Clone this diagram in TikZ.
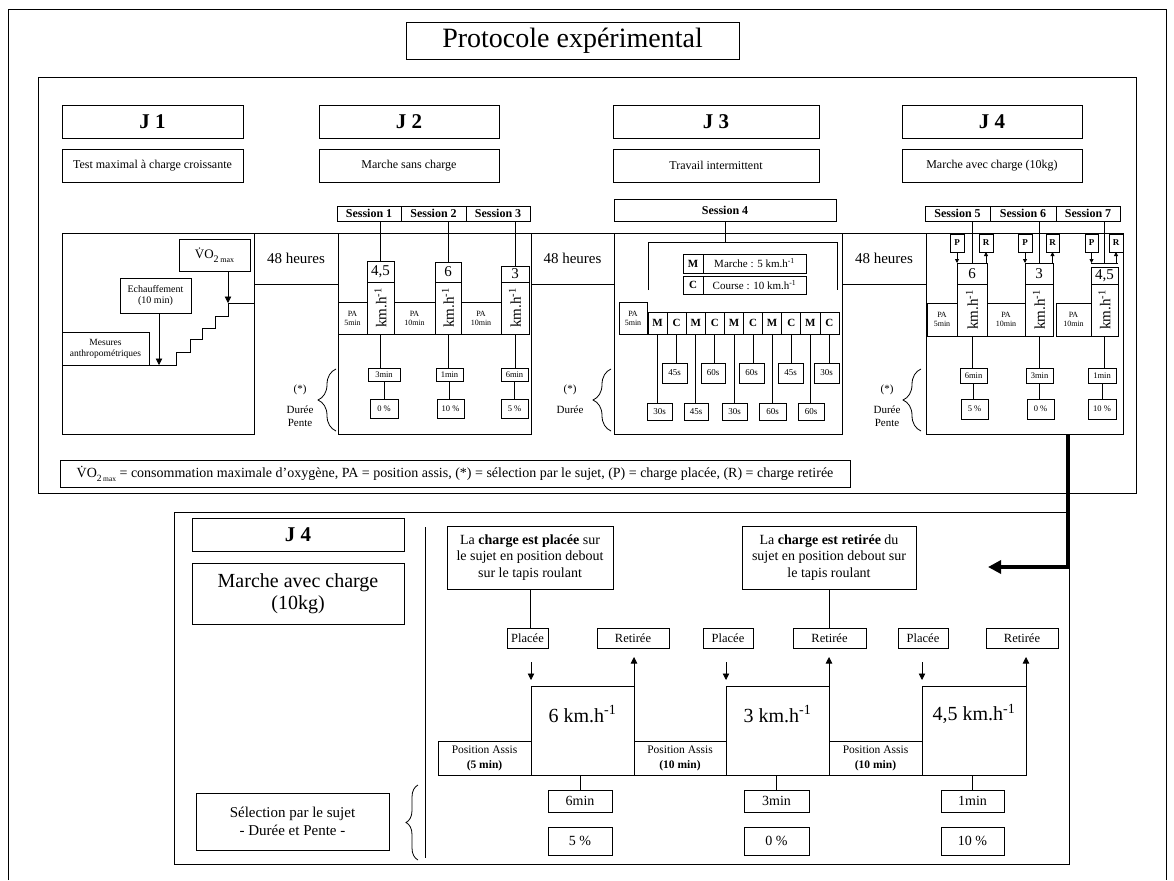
\documentclass[tikz,border=0pt]{standalone}
\usepackage{fontspec}
\setmainfont{Liberation Serif}
\usetikzlibrary{arrows.meta,decorations.pathreplacing}
\tikzset{
  bx/.style={draw, line width=0.8pt, inner sep=0pt, outer sep=0pt, align=center},
  fs/.style 2 args={font=\fontsize{#1}{#2}\selectfont},
  fsb/.style 2 args={font=\fontsize{#1}{#2}\selectfont\bfseries},
  ln/.style={line width=0.8pt},
  sarr/.style={line width=0.8pt, -{Triangle[length=4pt,width=4pt]}},
  marr/.style={line width=0.8pt, -{Triangle[length=6.5pt,width=6.5pt]}},
  brc/.style={line width=0.8pt, decorate, decoration={brace, amplitude=#1}},
}
\newcommand\bx[7][]{\node[bx,minimum width={(#5-#3)*1pt},minimum height={(#6-#4)*1pt},#1] (#2) at ({(#3+#5)/2},{(#4+#6)/2}) {#7};}
\newcommand\kmh{km.h\textsuperscript{-1}}
\newcommand\vo[2]{\.VO\raisebox{-0.25em}{\fontsize{#1}{#1}\selectfont 2\,{\fontsize{#2}{#2}\selectfont max}}}
\begin{document}
\begin{tikzpicture}[x=1pt,y=-1pt]
\useasboundingbox (0,0) rectangle (1174,880);
\draw[ln] (8,880) -- (8,9) -- (1166,9) -- (1166,880);
\bx[fs={28}{32}]{title}{406}{22}{739}{59}{Protocole expérimental}
\draw[ln] (38,77) rectangle (1136,493);
% headers
\bx[fsb={21}{24}]{J1}{62}{105}{243}{138}{J 1}
\bx[fs={12}{14}]{J1s}{62}{149}{243}{182}{Test maximal à charge croissante}
\bx[fsb={21}{24}]{J2}{319}{105}{499}{138}{J 2}
\bx[fs={12}{14}]{J2s}{319}{149}{499}{182}{Marche sans charge}
\bx[fsb={21}{24}]{J3}{613}{105}{819}{138}{J 3}
\bx[fs={12}{14}]{J3s}{613}{149}{819}{182}{Travail intermittent}
\bx[fsb={21}{24}]{J4}{902}{105}{1082}{138}{J 4}
\bx[fs={12}{14}]{J4s}{902}{149}{1082}{182}{Marche avec charge (10kg)}
% panels
\bx{P1}{62}{233}{254}{434}{}
\bx[fs={15}{17}]{H1}{254}{233}{338}{284}{48 heures}
\bx{P2}{338}{233}{531}{434}{}
\bx[fs={15}{17}]{H2}{531}{233}{614}{284}{48 heures}
\bx{P3}{614}{233}{842}{434}{}
\bx[fs={15}{17}]{H3}{842}{233}{926}{284}{48 heures}
\bx{P4}{926}{233}{1123}{434}{}
% J1
\bx[fs={13}{15}]{vo}{179}{239}{250}{271}{\vo{10}{8}}
\bx[fs={10}{11.5}]{ec}{120}{278}{191}{313}{Echauffement\\(10 min)}
\bx[fs={9.5}{11}]{me}{62}{332}{149}{365}{Mesures\\anthropométriques}
\coordinate (stT) at (228,303);
\coordinate (stB) at (159,365);
\draw[ln] (me.south east) -- (176,365) -- (176,352) -- (190,352) -- (190,339) -- (202,339) -- (202,328) -- (215,328) -- (215,316) -- (228,316) -- (stT) -- (P1.east |- stT);
\draw[marr] (vo.south -| stT) -- (stT);
\draw[marr] (ec.south -| stB) -- (stB);
% J2
\bx[fsb={12}{14}]{s1}{337}{206}{401}{221}{Session 1}
\bx[fsb={12}{14}]{s2}{401}{206}{466}{221}{Session 2}
\bx[fsb={12}{14}]{s3}{466}{206}{530}{221}{Session 3}
\bx[fs={15}{17}]{v1}{367}{261}{394}{282}{4,5}
\bx{k1}{367}{282}{394}{334}{}
\node[rotate=90,fs={15}{17}] (k1t) at (k1) {\kmh};
\bx[fs={15}{17}]{v2}{435}{262}{461}{282}{6}
\bx{k2}{435}{282}{461}{334}{}
\node[rotate=90,fs={15}{17}] (k2t) at (k2) {\kmh};
\bx[fs={15}{17}]{v3}{501}{266}{529}{282}{3}
\bx{k3}{501}{282}{529}{334}{}
\node[rotate=90,fs={15}{17}] (k3t) at (k3) {\kmh};
\bx[fs={8}{9}]{a1}{338}{302}{367}{334}{PA\\5min}
\bx[fs={8}{9}]{a2}{394}{302}{435}{334}{PA\\10min}
\bx[fs={8}{9}]{a3}{461}{302}{501}{334}{PA\\10min}
\bx[fs={8.5}{10}]{d1}{368}{368}{400}{381}{3min}
\bx[fs={8.5}{10}]{g1}{370}{399}{398}{418}{0 \%}
\bx[fs={8.5}{10}]{d2}{436}{368}{463}{381}{1min}
\bx[fs={8.5}{10}]{g2}{437}{399}{464}{418}{10 \%}
\bx[fs={8.5}{10}]{d3}{501}{368}{528}{381}{6min}
\bx[fs={8.5}{10}]{g3}{501}{399}{528}{418}{5 \%}
\foreach \s/\v/\k/\d/\g in {s1/v1/k1/d1/g1,s2/v2/k2/d2/g2,s3/v3/k3/d3/g3}{
  \draw[ln] (\s.south -| \v.north) -- (\v.north);
  \draw[ln] (\k.south) -- (\k.south |- \d.north);
  \draw[ln] (\d.south) -- (\d.south |- \g.north);
}
\draw[brc=18pt] (336,431) -- (336,369);
\node[fs={11}{13}] (ast2) at (300,390) {(*)};
\node[fs={11}{13},align=center] (dp2) at (300,416) {Durée\\Pente};
% J3
\bx[fsb={12}{14}]{s4}{614}{199}{836}{221}{Session 4}
\coordinate (b4) at (724,242);
\coordinate (bl) at (648,290);
\coordinate (br) at (837,290);
\draw[ln] (s4.south) -- (s4.south |- b4);
\draw[ln] (bl) -- (bl |- b4) -- (br |- b4) -- (br);
\bx[fsb={11}{13}]{mk}{683}{254}{703}{273}{M}
\bx[fs={11}{13}]{mt}{703}{254}{806}{273}{Marche : 5 \kmh}
\bx[fsb={11}{13}]{ck}{683}{276}{703}{294}{C}
\bx[fs={11}{13}]{ct}{703}{276}{806}{294}{Course : 10 \kmh}
\bx[fs={8}{9}]{a4}{619}{302}{647}{334}{PA\\5min}
\bx[fsb={11}{13}]{mc1}{648}{312}{667.1}{334}{M}
\bx[fsb={11}{13}]{mc2}{667.1}{312}{686.2}{334}{C}
\bx[fsb={11}{13}]{mc3}{686.2}{312}{705.3}{334}{M}
\bx[fsb={11}{13}]{mc4}{705.3}{312}{724.4}{334}{C}
\bx[fsb={11}{13}]{mc5}{724.4}{312}{743.5}{334}{M}
\bx[fsb={11}{13}]{mc6}{743.5}{312}{762.6}{334}{C}
\bx[fsb={11}{13}]{mc7}{762.6}{312}{781.7}{334}{M}
\bx[fsb={11}{13}]{mc8}{781.7}{312}{800.8}{334}{C}
\bx[fsb={11}{13}]{mc9}{800.8}{312}{819.9}{334}{M}
\bx[fsb={11}{13}]{mc10}{819.9}{312}{839}{334}{C}
\bx[fs={9}{10}]{u1}{662}{363}{687}{383}{45s}
\bx[fs={9}{10}]{u2}{701}{363}{725}{383}{60s}
\bx[fs={9}{10}]{u3}{739}{363}{764}{383}{60s}
\bx[fs={9}{10}]{u4}{778}{363}{803}{383}{45s}
\bx[fs={9}{10}]{u5}{814}{363}{839}{383}{30s}
\bx[fs={9}{10}]{l1}{647}{403}{672}{420}{30s}
\bx[fs={9}{10}]{l2}{684}{403}{708}{420}{45s}
\bx[fs={9}{10}]{l3}{722}{403}{747}{420}{30s}
\bx[fs={9}{10}]{l4}{759}{403}{786}{420}{60s}
\bx[fs={9}{10}]{l5}{798}{403}{824}{420}{60s}
\foreach \m/\b in {mc1/l1,mc3/l2,mc5/l3,mc7/l4,mc9/l5,mc2/u1,mc4/u2,mc6/u3,mc8/u4,mc10/u5}{
  \draw[ln] (\m.south) -- (\m.south |- \b.north);
}
\draw[brc=18pt] (611,431) -- (611,369);
\node[fs={11}{13}] (ast3) at (570,390) {(*)};
\node[fs={11}{13}] (dp3) at (570,410) {Durée};
% J4
\bx[fsb={12}{14}]{s5}{925}{206}{990}{221}{Session 5}
\bx[fsb={12}{14}]{s6}{990}{206}{1056}{221}{Session 6}
\bx[fsb={12}{14}]{s7}{1056}{206}{1120}{221}{Session 7}
\bx[fsb={9}{10}]{p5}{950}{234}{964}{252}{P}
\bx[fsb={9}{10}]{r5}{979}{234}{993}{252}{R}
\bx[fsb={9}{10}]{p6}{1018}{234}{1032}{252}{P}
\bx[fsb={9}{10}]{r6}{1046}{234}{1059}{252}{R}
\bx[fsb={9}{10}]{p7}{1085}{234}{1098}{252}{P}
\bx[fsb={9}{10}]{r7}{1109}{234}{1123}{252}{R}
\bx[fs={15}{17}]{w5}{957}{263}{987}{284}{6}
\bx{kk5}{957}{284}{987}{336}{}
\node[rotate=90,fs={15}{17}] (kk5t) at (kk5) {\kmh};
\bx[fs={15}{17}]{w6}{1025}{263}{1053}{284}{3}
\bx{kk6}{1025}{284}{1053}{336}{}
\node[rotate=90,fs={15}{17}] (kk6t) at (kk6) {\kmh};
\bx[fs={15}{17}]{w7}{1091}{267}{1118}{284}{4,5}
\bx{kk7}{1091}{284}{1118}{336}{}
\node[rotate=90,fs={15}{17}] (kk7t) at (kk7) {\kmh};
\coordinate (h7l) at (1091,263);
\coordinate (h7r) at (1118,263);
\draw[ln] (h7l) -- (h7r);
\draw[ln] (s5.south -| w5.north) -- (w5.north);
\draw[ln] (s6.south -| w6.north) -- (w6.north);
\draw[ln] (s7.south -| w7.north) -- (w7.north |- h7l);
\draw[sarr] (p5.south) -- (p5.south |- w5.north);
\draw[sarr] (r5.south |- w5.north) -- (r5.south);
\draw[sarr] (p6.south) -- (p6.south |- w6.north);
\draw[sarr] (r6.south |- w6.north) -- (r6.south);
\draw[sarr] (p7.south) -- (p7.south |- h7l);
\draw[sarr] (r7.south |- h7l) -- (r7.south);
\bx[fs={8}{9}]{q5}{927}{303}{957}{336}{PA\\5min}
\bx[fs={8}{9}]{q6}{987}{303}{1025}{336}{PA\\10min}
\bx[fs={8}{9}]{q7}{1056}{303}{1091}{336}{PA\\10min}
\bx[fs={8.5}{10}]{e5}{960}{368}{987}{383}{6min}
\bx[fs={8.5}{10}]{f5}{961}{399}{988}{419}{5 \%}
\bx[fs={8.5}{10}]{e6}{1026}{368}{1053}{383}{3min}
\bx[fs={8.5}{10}]{f6}{1027}{399}{1054}{419}{0 \%}
\bx[fs={8.5}{10}]{e7}{1088}{368}{1116}{383}{1min}
\bx[fs={8.5}{10}]{f7}{1088}{399}{1116}{419}{10 \%}
\foreach \k/\d/\g in {kk5/e5/f5,kk6/e6/f6,kk7/e7/f7}{
  \draw[ln] (\k.south) -- (\k.south |- \d.north);
  \draw[ln] (\d.south) -- (\d.south |- \g.north);
}
\draw[brc=18pt] (921,431) -- (921,369);
\node[fs={11}{13}] (ast4) at (887,390) {(*)};
\node[fs={11}{13},align=center] (dp4) at (887,416) {Durée\\Pente};
% legend
\bx[fs={14}{16}]{leg}{60}{460}{850}{487}{\vo{9.5}{7.5} = consommation maximale d’oxygène, PA = position assis, (*) = sélection par le sujet, (P) = charge placée, (R) = charge retirée}
% thick arrow
\coordinate (ta) at (1068,434);
\coordinate (tb) at (988,567);
\draw[line width=4pt, -{Triangle[length=13pt,width=13pt]}] (ta) |- (tb);
% lower frame
\draw[ln] (174,512) rectangle (1069,864);
\bx[fsb={21}{24}]{LJ4}{192}{518}{404}{551}{J 4}
\bx[fs={20}{22}]{LM}{192}{563}{404}{624}{Marche avec charge\\(10kg)}
\coordinate (dv1) at (425,527);
\coordinate (dv2) at (425,858);
\draw[ln] (dv1) -- (dv2);
\bx[fs={14}{16.5}]{LP}{447}{526}{613}{589}{La \textbf{charge est placée} sur\\le sujet en position debout\\sur le tapis roulant}
\bx[fs={14}{16.5}]{LR}{742}{526}{916}{589}{La \textbf{charge est retirée} du\\sujet en position debout sur\\le tapis roulant}
\bx[fs={12.5}{14}]{pl1}{507}{628}{548}{648}{Placée}
\bx[fs={12.5}{14}]{rt1}{597}{628}{669}{648}{Retirée}
\bx[fs={12.5}{14}]{pl2}{703}{628}{753}{648}{Placée}
\bx[fs={12.5}{14}]{rt2}{793}{628}{866}{648}{Retirée}
\bx[fs={12.5}{14}]{pl3}{898}{628}{948}{648}{Placée}
\bx[fs={12.5}{14}]{rt3}{986}{628}{1058}{648}{Retirée}
\draw[ln] (LP.south) -- (LP.south |- pl1.north);
\draw[ln] (LR.south) -- (LR.south |- rt2.north);
\bx{K1}{531}{686}{634}{775}{}
\bx{K2}{726}{686}{829}{775}{}
\bx{K3}{922}{686}{1026}{775}{}
\node[fs={20}{22}] (K1t) at ([yshift=-28pt]K1.north) {6 \kmh};
\node[fs={20}{22}] (K2t) at ([yshift=-28pt]K2.north) {3 \kmh};
\node[fs={20}{22}] (K3t) at ([yshift=-28pt]K3.north) {4,5 \kmh};
\bx[fs={11.5}{15}]{LA1}{438}{741}{531}{775}{Position Assis\\\textbf{(5 min)}}
\bx[fs={11.5}{15}]{LA2}{634}{741}{726}{775}{Position Assis\\\textbf{(10 min)}}
\bx[fs={11.5}{15}]{LA3}{829}{741}{922}{775}{Position Assis\\\textbf{(10 min)}}
\foreach \p/\r/\K in {pl1/rt1/K1,pl2/rt2/K2,pl3/rt3/K3}{
  \coordinate (\p d) at ([yshift=-14pt]\p.south);
  \coordinate (\K w) at ([yshift=6pt]\K.north west);
  \coordinate (\r u) at ([yshift=-9pt]\r.south);
  \draw[marr] (\p d -| \K w) -- (\K w);
  \draw[marr] (\K.north east) -- (\r u -| \K.north east);
}
\bx[fs={14}{16}]{LD1}{548}{790}{612}{812}{6min}
\bx[fs={14}{16}]{LG1}{548}{827}{612}{855}{5 \%}
\bx[fs={14}{16}]{LD2}{744}{790}{809}{812}{3min}
\bx[fs={14}{16}]{LG2}{744}{827}{809}{855}{0 \%}
\bx[fs={14}{16}]{LD3}{941}{790}{1004}{812}{1min}
\bx[fs={14}{16}]{LG3}{941}{827}{1004}{855}{10 \%}
\draw[ln] (K1.south -| LD1.north) -- (LD1.north);
\draw[ln] (K2.south -| LD2.north) -- (LD2.north);
\draw[ln] (K3.south -| LD3.north) -- (LD3.north);
\bx[fs={15}{18}]{SEL}{196}{793}{389}{850}{Sélection par le sujet\\- Durée et Pente -}
\draw[brc=12pt] (418,860) -- (418,785);
\end{tikzpicture}
\end{document}
